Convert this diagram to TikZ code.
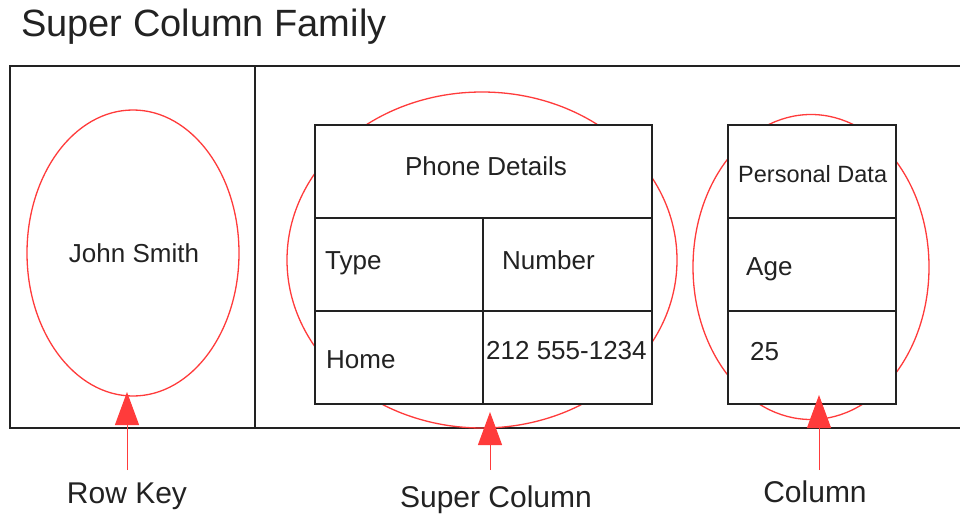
\documentclass[tikz,border=0pt]{standalone}
\usepackage{fontspec}
\setmainfont{Liberation Sans}
\usetikzlibrary{arrows.meta,shapes.geometric}
\definecolor{ink}{HTML}{222222}
\definecolor{hl}{HTML}{FF3B3B}
\begin{document}
\begin{tikzpicture}[x=1pt,y=-1pt,
  frame/.style={draw=ink,line width=1.6pt},
  cell/.style={draw=ink,line width=1.5pt,fill=white,inner sep=0pt,anchor=north west},
  ring/.style={draw=hl,line width=1.3pt,ellipse,inner sep=0pt},
  txt/.style={inner sep=0pt,text=ink,font=\fontsize{26}{30}\selectfont},
  small/.style={inner sep=0pt,text=ink,font=\fontsize{23.5}{28}\selectfont},
  label/.style={inner sep=0pt,text=ink,font=\fontsize{30}{34}\selectfont,anchor=base},
  pointer/.style={draw=hl,line width=1pt,-{Triangle[width=24pt,length=33pt]}}]
  \useasboundingbox (0,0) rectangle (960,516);

  % title
  \node[inner sep=0pt,text=ink,font=\fontsize{38}{44}\selectfont,anchor=base west]
    (title) at (21,37) {Super Column Family};

  % column family frame, open on the right
  \draw[frame] (960,66) -- (10,66) -- (10,428) -- (960,428);
  \draw[frame] (255,66) -- (255,428);

  % highlighted regions
  \node[ring,minimum width=212pt,minimum height=286pt] (rowring) at (133,253) {};
  \node[ring,minimum width=390pt,minimum height=336pt] (superring) at (482,260) {};
  \node[ring,minimum width=236pt,minimum height=305pt] (colring) at (811,267) {};

  % super column table
  \node[cell,minimum width=337pt,minimum height=93pt] (pd) at (314,124) {};
  \node[cell,minimum width=168pt,minimum height=93pt] (ty) at (314,217) {};
  \node[cell,minimum width=169pt,minimum height=93pt] (nu) at (482,217) {};
  \node[cell,minimum width=168pt,minimum height=93pt] (ho) at (314,310) {};
  \node[cell,minimum width=169pt,minimum height=93pt] (ph) at (482,310) {};

  % column table
  \node[cell,minimum width=168pt,minimum height=93pt] (pers) at (727,124) {};
  \node[cell,minimum width=168pt,minimum height=93pt] (age) at (727,217) {};
  \node[cell,minimum width=168pt,minimum height=93pt] (val) at (727,310) {};

  % cell texts
  \node[txt,anchor=base] (jstext) at (134,262) {John Smith};
  \node[txt,anchor=base] (pdtext) at (486,175) {Phone Details};
  \node[txt,anchor=base west] (tytext) at (325,269) {Type};
  \node[txt,anchor=base west] (nutext) at (502,269) {Number};
  \node[txt,anchor=base west] (hotext) at (326,368) {Home};
  \node[txt,anchor=base west] (phtext) at (486,359) {212 555-1234};
  \node[small,anchor=base west] (perstext) at (738,182) {Personal Data};
  \node[txt,anchor=base west] (agetext) at (746,275) {Age};
  \node[txt,anchor=base west] (valtext) at (750,360) {25};

  % pointer labels
  \node[label] (rk) at (127,503) {Row Key};
  \node[label] (sc) at (496,507) {Super Column};
  \node[label] (co) at (815,502) {Column};

  % pointers
  \coordinate (rk-tail) at (127,470);
  \coordinate (rk-tip) at (127,392);
  \coordinate (sc-tail) at (490,470);
  \coordinate (sc-tip) at (490,412);
  \coordinate (co-tail) at (819,470);
  \coordinate (co-tip) at (819,395);
  \draw[pointer] (rk-tail) -- (rk-tip);
  \draw[pointer] (sc-tail) -- (sc-tip);
  \draw[pointer] (co-tail) -- (co-tip);
\end{tikzpicture}
\end{document}
